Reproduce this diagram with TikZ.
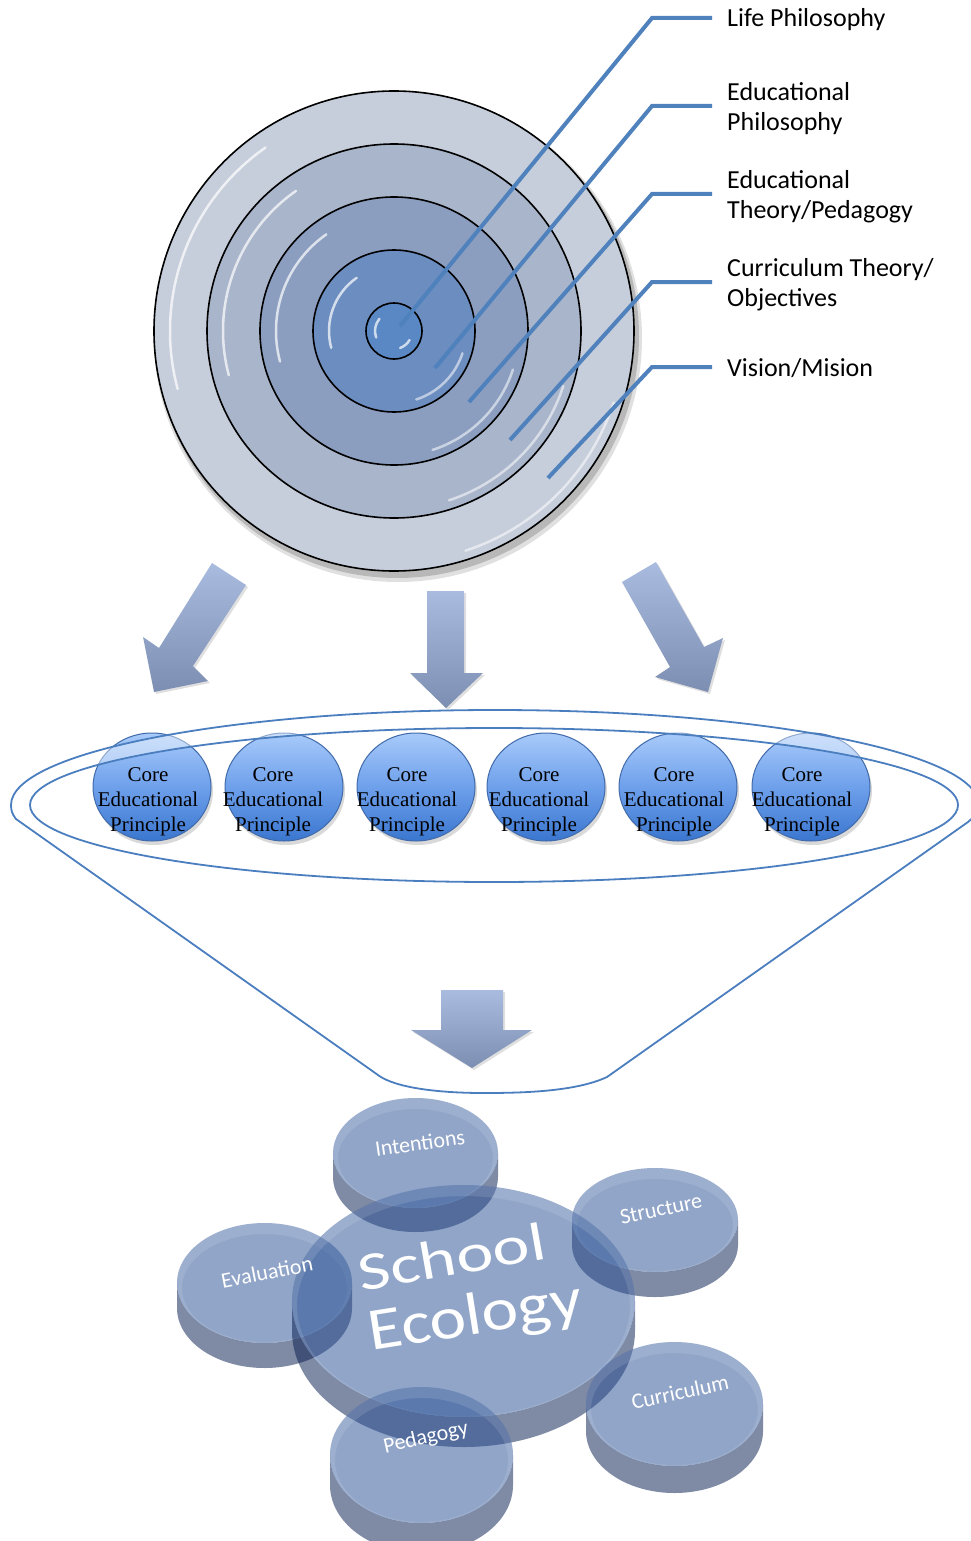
\documentclass[tikz,border=0pt]{standalone}
\usepackage{fontspec}
\setmainfont{Liberation Serif}
\newfontfamily\calibrilike{Carlito}
\usetikzlibrary{shapes.geometric,shadows}

\definecolor{leadblue}{RGB}{79,129,189}
\definecolor{ringA}{RGB}{198,206,219}
\definecolor{ringB}{RGB}{169,181,202}
\definecolor{ringC}{RGB}{139,158,192}
\definecolor{ringD}{RGB}{108,141,192}
\definecolor{ringE}{RGB}{90,136,196}
\definecolor{arrowtop}{RGB}{169,188,223}
\definecolor{arrowbot}{RGB}{124,142,177}
\definecolor{funnelblue}{RGB}{74,126,191}
\definecolor{coretop}{RGB}{168,202,250}
\definecolor{coremid}{RGB}{110,160,235}
\definecolor{corebot}{RGB}{58,118,207}
\definecolor{coreedge}{RGB}{64,106,170}
\definecolor{pucktop}{RGB}{43,82,149}
\definecolor{puckside}{RGB}{10,30,80}

\tikzset{
  ring/.style={circle, draw=black, line width=1.6pt, inner sep=0pt, minimum size=#1},
  gloss/.style={draw=white, line width=2.5pt, opacity=0.7, line cap=round},
  leader/.style={draw=leadblue, line width=4pt},
  lbl/.style={anchor=west, inner sep=0pt, align=left, font=\calibrilike\fontsize{26}{30}\selectfont},
  blockarrow/.style={top color=arrowtop, bottom color=arrowbot,
    drop shadow={shadow xshift=2pt, shadow yshift=-2pt, opacity=0.25}},
  funnelline/.style={draw=funnelblue, line width=1.8pt},
  coredisc/.style={ellipse, inner sep=0pt, minimum width=118pt, minimum height=108pt,
    draw=coreedge, line width=1pt, top color=coretop, bottom color=corebot, middle color=coremid,
    drop shadow={shadow xshift=2pt, shadow yshift=-4pt, opacity=0.3}},
  coretext/.style={inner sep=0pt, align=center, font=\fontsize{21}{25}\selectfont},
  puckface/.style={ellipse, inner sep=0pt, fill=pucktop, fill opacity=0.52},
  pucklbl/.style={inner sep=0pt, text=white, font=\calibrilike\fontsize{22}{26}\selectfont},
  biglbl/.style={inner sep=0pt, anchor=base, text=white, font=\calibrilike\fontsize{54}{60}\selectfont},
}

% puck: name, cx, cy, rx, ry, thickness
\newcommand\puckbody[6]{%
  \fill[puckside, fill opacity=0.52] ({#2-#4},#3) -- ({#2-#4},{#3+#6})
    arc[start angle=180, end angle=360, x radius=#4pt, y radius=#5pt]
    -- ({#2+#4},#3)
    arc[start angle=360, end angle=180, x radius=#4pt, y radius=#5pt] -- cycle;
  \node[puckface, minimum width={2*#4pt}, minimum height={2*#5pt}] (#1) at (#2,#3) {};
  \fill[white, fill opacity=0.12, even odd rule] (#2,#3) ellipse [x radius=#4pt, y radius=#5pt]
    (#2,{#3+5}) ellipse [x radius={(#4-5)*1pt}, y radius={(#5-6)*1pt}];
}

\begin{document}
\begin{tikzpicture}[x=1pt,y=-1pt]
\useasboundingbox (0,0) rectangle (970,1541);

% ---------- concentric target ----------
\fill[black, opacity=0.18] (397,336) circle (242pt);
\fill[black, opacity=0.12] (398,338) circle (244pt);
\node[ring=480pt, fill=ringA] (ring1) at (394,331) {};
\node[ring=374pt, fill=ringB] (ring2) at (394,331) {};
\node[ring=268pt, fill=ringC] (ring3) at (394,331) {};
\node[ring=162pt, fill=ringD] (ring4) at (394,331) {};
\node[ring=56pt,  fill=ringE] (ring5) at (394,331) {};
\foreach \a/\b in {224/231, 171/178, 118/125, 65/72}{
  \draw[gloss] (ring1.center) ++(125:\a pt) arc[start angle=125, end angle=195, radius=\a pt];
  \draw[gloss, opacity=0.55] (ring1.center) ++(-18:\b pt) arc[start angle=-18, end angle=-72, radius=\b pt];
}
\draw[gloss] (ring5.center) ++(140:19pt) arc[start angle=140, end angle=200, radius=19pt];
\draw[gloss] (ring5.center) ++(-30:18pt) arc[start angle=-30, end angle=-70, radius=18pt];

% ---------- leader lines and labels ----------
\node[lbl] (lLife) at (727,20) {Life Philosophy};
\node[lbl] (lEdPhil) at (727,109) {Educational\\Philosophy};
\node[lbl] (lEdTheo) at (727,197) {Educational\\Theory/Pedagogy};
\node[lbl] (lCurr) at (727,285) {Curriculum Theory/\\Objectives};
\node[lbl] (lVision) at (727,368) {Vision/Mision};

\coordinate (kLife) at (652,18);    \coordinate (tLife) at (400,326);
\coordinate (kEdPhil) at (652,106); \coordinate (tEdPhil) at (435,368);
\coordinate (kEdTheo) at (652,194); \coordinate (tEdTheo) at (469,402);
\coordinate (kCurr) at (652,282);   \coordinate (tCurr) at (510,440);
\coordinate (kVision) at (652,367); \coordinate (tVision) at (548,478);

\foreach \n in {Life,EdPhil,EdTheo,Curr,Vision}{
  \draw[leader] ([xshift=-15pt]l\n.west |- k\n) -- (k\n) -- (t\n);
}

% ---------- block arrows ----------
\path[blockarrow] (212,563) -- (246,585) -- (193,666) -- (208,681) -- (154,692) -- (143,637) -- (159,648) -- cycle;
\path[blockarrow] (427,591) -- (464,591) -- (464,673) -- (483,673) -- (446,708) -- (410,673) -- (427,673) -- cycle;
\path[blockarrow] (622,582) -- (656,562) -- (704,647) -- (723,638) -- (708,692) -- (655,677) -- (670,667) -- cycle;
\path[blockarrow] (441,990) -- (503,990) -- (503,1030) -- (532,1030) -- (472,1068) -- (411,1030) -- (441,1030) -- cycle;

% ---------- core principles in the funnel ----------
\foreach \i/\cx/\tx in {1/152/148, 2/284/273, 3/416/407, 4/546/539, 5/678/674, 6/811/802}{
  \node[coredisc] (core\i) at (\cx,787) {};
  \node[coretext] (coretxt\i) at (\tx,802) {Core\\Educational\\Principle};
}

% light rim of the funnel mouth
\fill[white, fill opacity=0.42, even odd rule]
  (495,805) ellipse [x radius=484pt, y radius=95pt]
  (494,805) ellipse [x radius=464pt, y radius=77pt];

% funnel outline
\draw[funnelline, line join=round]
  (378,1075) -- (16,819) .. controls (12,814) and (11,810) .. (11,805)
  arc[start angle=180, end angle=0, x radius=484pt, y radius=95pt]
  .. controls (979,811) and (975,816) .. (968,822)
  -- (607,1077) .. controls (575,1092) and (520,1093) .. (483,1093)
  .. controls (440,1093) and (395,1088) .. (378,1075) -- cycle;
\draw[funnelline] (494,805) ellipse [x radius=464pt, y radius=77pt];

% ---------- school ecology pucks ----------
\puckbody{pEval}{264.5}{1283}{87.5}{60}{25}
\puckbody{pInt}{415.5}{1153}{82.5}{55}{24}
\puckbody{pStruct}{655}{1220}{83}{52}{25}
\puckbody{pSchool}{463.5}{1301}{171.5}{116}{30}
\puckbody{pCurr}{674.5}{1404}{88.5}{62}{27}
\puckbody{pPed}{421.5}{1455}{91.5}{68}{30}

\node[pucklbl, rotate=8]  (tInt)    at (420,1143) {Intentions};
\node[pucklbl, rotate=11] (tEval)   at (267,1272) {Evaluation};
\node[pucklbl, rotate=12] (tStruct) at (661,1209) {Structure};
\node[pucklbl, rotate=12] (tCurr)   at (680,1392) {Curriculum};
\node[pucklbl, rotate=13] (tPed)    at (426,1438) {Pedagogy};
\node[biglbl, rotate=10] (tSchool) at (455,1275) {\scalebox{1.3}[1]{School}};
\node[biglbl, rotate=9]  (tEco)    at (478,1334) {\fontsize{60}{66}\selectfont\scalebox{1.16}[1]{Ecology}};

\end{tikzpicture}
\end{document}
